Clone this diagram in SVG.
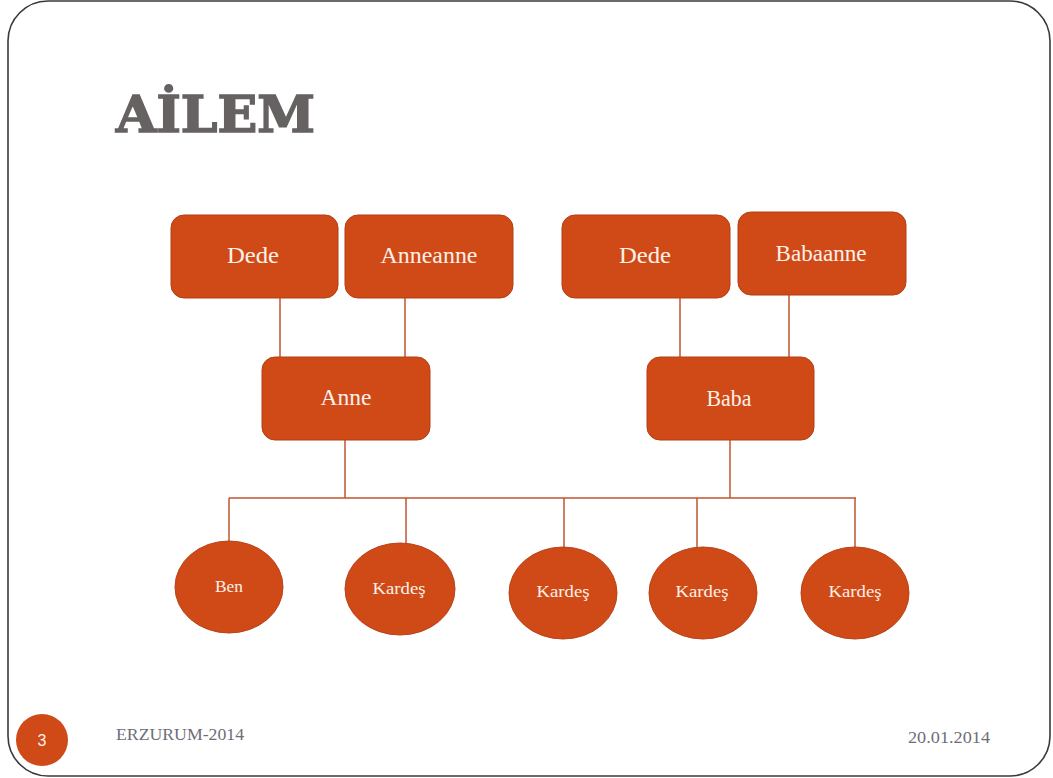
<svg xmlns="http://www.w3.org/2000/svg" width="1053" height="778" viewBox="0 0 1053 778">
  <style>
    .box { fill: #D04A17; stroke: #B23E14; stroke-width: 1; }
    .oval { fill: #D04A17; stroke: #B8431A; stroke-width: 1; }
    .lbl { fill: #FDF1EA; font-family: "Liberation Serif", "DejaVu Serif", serif; font-size: 23px; text-anchor: middle; }
    .small { font-size: 17px; }
    .link { stroke: #C0542F; stroke-width: 1.5; fill: none; }
    .foot { fill: #6E6E78; font-family: "Liberation Serif", serif; font-size: 16px; }
  </style>
  <rect width="1053" height="778" fill="#FFFFFF"/>
  <!-- slide frame -->
  <path d="M48,1 H1010 A40,40 0 0 1 1050,41 V736 A40,40 0 0 1 1010,776 H48 A40,40 0 0 1 8,736 V41 A40,40 0 0 1 48,1 Z" fill="none" stroke="#3A3A3A" stroke-width="1.6"/>

  <!-- title -->
  <text x="116" y="132" font-family="DejaVu Serif, serif" font-weight="bold" font-size="50" fill="#666262" stroke="#666262" stroke-width="1.6" textLength="199" lengthAdjust="spacingAndGlyphs">AİLEM</text>

  <!-- connectors -->
  <g id="connectors">
    <line class="link" x1="280" y1="298" x2="280" y2="357"/>
    <line class="link" x1="405" y1="297" x2="405" y2="357"/>
    <line class="link" x1="680" y1="297" x2="680" y2="357"/>
    <line class="link" x1="789" y1="295" x2="789" y2="357"/>
    <line class="link" x1="345" y1="440" x2="345" y2="498"/>
    <line class="link" x1="730" y1="440" x2="730" y2="498"/>
    <line class="link" x1="229" y1="498" x2="856" y2="498"/>
    <line class="link" x1="229" y1="498" x2="229" y2="541"/>
    <line class="link" x1="406" y1="498" x2="406" y2="543"/>
    <line class="link" x1="564" y1="498" x2="564" y2="547"/>
    <line class="link" x1="697" y1="498" x2="697" y2="547"/>
    <line class="link" x1="855" y1="498" x2="855" y2="547"/>
  </g>

  <!-- grandparents -->
  <g id="dede-anne-side">
    <rect class="box" x="171" y="215" width="167" height="83" rx="13"/>
    <text class="lbl" x="253" y="263" textLength="52" lengthAdjust="spacingAndGlyphs">Dede</text>
  </g>
  <g id="anneanne">
    <rect class="box" x="345" y="215" width="168" height="83" rx="13"/>
    <text class="lbl" x="429" y="263" textLength="97" lengthAdjust="spacingAndGlyphs">Anneanne</text>
  </g>
  <g id="dede-baba-side">
    <rect class="box" x="562" y="215" width="168" height="83" rx="13"/>
    <text class="lbl" x="645" y="263" textLength="52" lengthAdjust="spacingAndGlyphs">Dede</text>
  </g>
  <g id="babaanne">
    <rect class="box" x="738" y="212" width="168" height="83" rx="13"/>
    <text class="lbl" x="821" y="261" textLength="91" lengthAdjust="spacingAndGlyphs">Babaanne</text>
  </g>

  <!-- parents -->
  <g id="anne">
    <rect class="box" x="262" y="357" width="168" height="83" rx="13"/>
    <text class="lbl" x="346" y="405" textLength="51" lengthAdjust="spacingAndGlyphs">Anne</text>
  </g>
  <g id="baba">
    <rect class="box" x="647" y="357" width="167" height="83" rx="13"/>
    <text class="lbl" x="729" y="406" textLength="45" lengthAdjust="spacingAndGlyphs">Baba</text>
  </g>

  <!-- children -->
  <g id="ben">
    <ellipse class="oval" cx="229" cy="587" rx="54" ry="46"/>
    <text class="lbl small" x="229" y="592" textLength="28" lengthAdjust="spacingAndGlyphs">Ben</text>
  </g>
  <g id="kardes-1">
    <ellipse class="oval" cx="400" cy="589" rx="55" ry="46"/>
    <text class="lbl small" x="399" y="594" textLength="53" lengthAdjust="spacingAndGlyphs">Kardeş</text>
  </g>
  <g id="kardes-2">
    <ellipse class="oval" cx="563" cy="593" rx="54" ry="46"/>
    <text class="lbl small" x="563" y="597" textLength="53" lengthAdjust="spacingAndGlyphs">Kardeş</text>
  </g>
  <g id="kardes-3">
    <ellipse class="oval" cx="703" cy="593" rx="54" ry="46"/>
    <text class="lbl small" x="702" y="597" textLength="53" lengthAdjust="spacingAndGlyphs">Kardeş</text>
  </g>
  <g id="kardes-4">
    <ellipse class="oval" cx="855" cy="593" rx="54" ry="46"/>
    <text class="lbl small" x="855" y="597" textLength="53" lengthAdjust="spacingAndGlyphs">Kardeş</text>
  </g>

  <!-- footer -->
  <circle cx="42" cy="740" r="26" fill="#D04A17"/>
  <text x="42" y="746" font-family="Liberation Sans, sans-serif" font-size="16" fill="#FDF1EA" text-anchor="middle">3</text>
  <text class="foot" x="116" y="740" textLength="128" lengthAdjust="spacingAndGlyphs">ERZURUM-2014</text>
  <text class="foot" x="908" y="743" textLength="82" lengthAdjust="spacingAndGlyphs">20.01.2014</text>
</svg>
